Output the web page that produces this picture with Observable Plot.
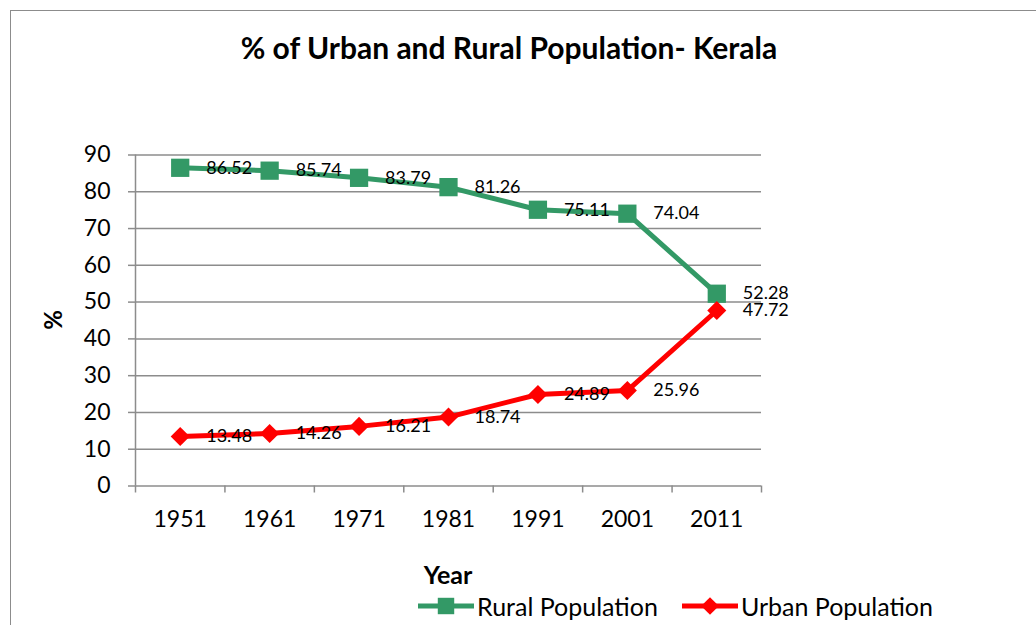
<!DOCTYPE html>
<html><head><meta charset="utf-8">
<script src="https://cdn.jsdelivr.net/npm/d3@7"></script>
<script src="https://cdn.jsdelivr.net/npm/@observablehq/plot@0.6"></script>
<style>
body{margin:0;background:#fff;font-family:Lato,sans-serif;}
#wrap{position:relative;width:1036px;height:625px;overflow:hidden;background:#fff;}
#frame{position:absolute;left:10px;top:10px;width:1040px;height:640px;border-top:1.5px solid #8c8c8c;border-left:1.5px solid #8c8c8c;box-sizing:border-box;}
#chart{position:absolute;left:0;top:0;}
#title{position:absolute;left:0;width:1018px;top:29px;text-align:center;font-weight:bold;font-size:30px;color:#000;white-space:nowrap;}
#xlab{position:absolute;left:348px;width:200px;top:559px;text-align:center;font-weight:bold;font-size:25px;}
#ylab{position:absolute;left:52px;top:320px;transform:translate(-50%,-50%) rotate(-90deg);font-weight:bold;font-size:24px;}
#legend{position:absolute;left:418px;top:591px;display:flex;align-items:center;font-size:25px;white-space:nowrap;}
#legend .item{display:flex;align-items:center;margin-right:24px;}
#legend svg{margin-right:3px;}
</style></head>
<body>
<div id="wrap">
  <div id="frame"></div>
  <div id="chart"></div>
  <div id="title">% of Urban and Rural Population- Kerala</div>
  <div id="xlab">Year</div>
  <div id="ylab">%</div>
  <div id="legend"></div>
</div>
<script>
const years = [1951, 1961, 1971, 1981, 1991, 2001, 2011];
const rural = [86.52, 85.74, 83.79, 81.26, 75.11, 74.04, 52.28];
const urban = [13.48, 14.26, 16.21, 18.74, 24.89, 25.96, 47.72];
const yTicks = [0, 10, 20, 30, 40, 50, 60, 70, 80, 90];
const seriesNames = ["Rural Population", "Urban Population"];
const colors = ["#339966", "#ff0000"];
const symbols = ["square", "diamond2"];

const bounds = years.map(y => y - 5).concat([years[years.length - 1] + 5]);
const ruralData = years.map((y, i) => ({year: y, value: rural[i]}));
const urbanData = years.map((y, i) => ({year: y, value: urban[i]}));
const grid = "#8c8c8c";

const chart = Plot.plot({
  width: 1036, height: 625,
  marginLeft: 135, marginRight: 275, marginTop: 154.5, marginBottom: 139.5,
  x: {type: "linear", domain: [bounds[0], bounds[bounds.length - 1]]},
  y: {domain: [0, 90]},
  style: {fontFamily: "Lato, sans-serif", background: "transparent", color: "#000"},
  marks: [
    Plot.gridY(yTicks, {stroke: grid, strokeOpacity: 1, strokeWidth: 1.5}),
    Plot.axisY({ticks: yTicks, tickSize: 7, tickPadding: 18, fontSize: 23, stroke: grid, strokeWidth: 1.5, label: null}),
    Plot.ruleX([bounds[0]], {stroke: grid, strokeWidth: 1.5}),
    Plot.axisX({ticks: bounds, tickSize: 7, tickFormat: () => "", stroke: grid, strokeWidth: 1.5, label: null}),
    Plot.axisX({ticks: years, tickSize: 0, tickPadding: 25, fontSize: 23, tickFormat: d => String(d), label: null}),
    Plot.line(ruralData, {x: "year", y: "value", stroke: colors[0], strokeWidth: 5}),
    Plot.line(urbanData, {x: "year", y: "value", stroke: colors[1], strokeWidth: 5}),
    Plot.dot(ruralData, {x: "year", y: "value", symbol: symbols[0], r: 10.3, fill: colors[0]}),
    Plot.dot(urbanData, {x: "year", y: "value", symbol: symbols[1], r: 8.6, fill: colors[1]}),
    Plot.text(ruralData, {x: "year", y: "value", text: d => d.value.toFixed(2), dx: 26, textAnchor: "start", fontSize: 18, fill: "#000"}),
    Plot.text(urbanData, {x: "year", y: "value", text: d => d.value.toFixed(2), dx: 26, textAnchor: "start", fontSize: 18, fill: "#000"})
  ]
});
document.getElementById("chart").appendChild(chart);

const legend = d3.select("#legend");
seriesNames.forEach((name, i) => {
  const item = legend.append("div").attr("class", "item");
  const svg = item.append("svg").attr("width", 56).attr("height", 24);
  svg.append("line").attr("x1", 0).attr("x2", 56).attr("y1", 12).attr("y2", 12)
    .attr("stroke", colors[i]).attr("stroke-width", 5);
  const sym = i === 0 ? d3.symbolSquare : d3.symbolDiamond2;
  svg.append("path").attr("transform", "translate(28,12)")
    .attr("d", d3.symbol(sym, i === 0 ? 270 : 200)()).attr("fill", colors[i]);
  item.append("span").text(name);
});
</script>
</body></html>
